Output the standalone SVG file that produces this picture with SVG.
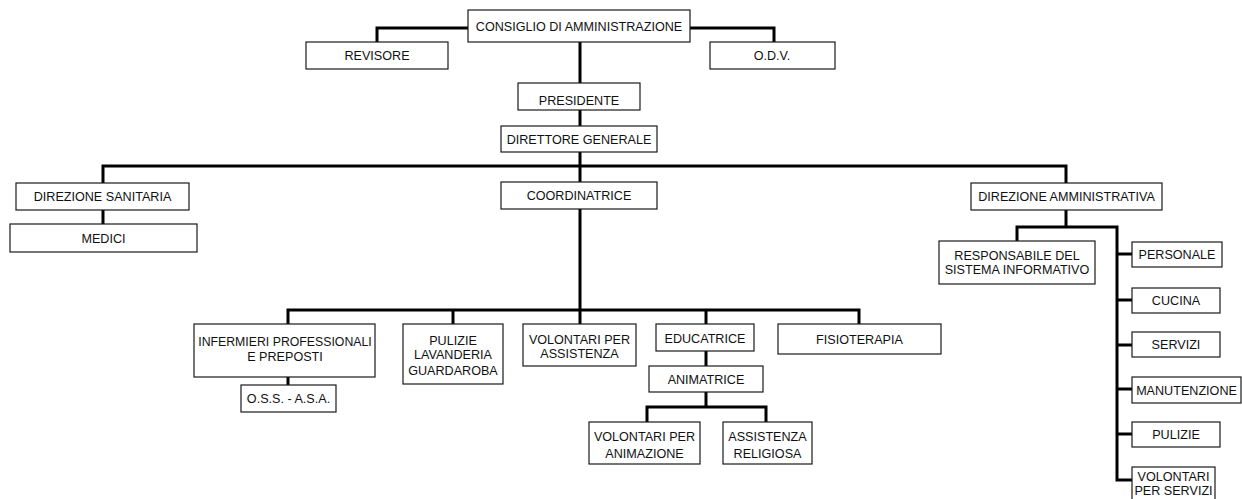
<svg xmlns="http://www.w3.org/2000/svg" width="1242" height="499" viewBox="0 0 1242 499">
<style>
.box{fill:#fff;stroke:#1a1a1a;stroke-width:1.2}
.t{font-family:"Liberation Sans",Arial,sans-serif;font-size:12.6px;fill:#111;text-anchor:middle}
.c{fill:none;stroke:#000;stroke-width:3}
</style>
<rect width="1242" height="499" fill="#fff"/>
<g id="connectors" class="c">
<path d="M468,28 H377 V42"/>
<path d="M690,28 H774 V42"/>
<path d="M580,42 V83"/>
<path d="M580,110 V126"/>
<path d="M580,152 V182"/>
<path d="M103,183 V166 H1066 V183"/>
<path d="M103,210 V224"/>
<path d="M580,209 V324"/>
<path d="M288,324 V310 H859 V324"/>
<path d="M453,310 V324"/>
<path d="M706,310 V324"/>
<path d="M288,377 V385"/>
<path d="M706,351 V366"/>
<path d="M706,392 V407"/>
<path d="M647,422 V407 H766 V422"/>
<path d="M1066,210 V227"/>
<path d="M1017,241 V227 H1117 V480 H1132"/>
<path d="M1117,254 H1132"/>
<path d="M1117,300 H1132"/>
<path d="M1117,345 H1132"/>
<path d="M1117,389 H1132"/>
<path d="M1117,434 H1132"/>
</g>
<g id="n-consiglio"><rect class="box" x="468" y="10" width="222" height="32"/><text class="t" x="579" y="31">CONSIGLIO DI AMMINISTRAZIONE</text></g>
<g id="n-revisore"><rect class="box" x="306" y="42" width="142" height="27"/><text class="t" x="377" y="60">REVISORE</text></g>
<g id="n-odv"><rect class="box" x="710" y="42" width="125" height="27"/><text class="t" x="772" y="60">O.D.V.</text></g>
<g id="n-presidente"><rect class="box" x="518" y="83" width="122" height="27"/><text class="t" x="579" y="105">PRESIDENTE</text></g>
<g id="n-direttore"><rect class="box" x="501" y="126" width="156" height="26"/><text class="t" x="579" y="144">DIRETTORE GENERALE</text></g>
<g id="n-dir-sanitaria"><rect class="box" x="16" y="183" width="173" height="27"/><text class="t" x="102.5" y="201">DIREZIONE SANITARIA</text></g>
<g id="n-medici"><rect class="box" x="10" y="224" width="187" height="28"/><text class="t" x="103.5" y="243">MEDICI</text></g>
<g id="n-coordinatrice"><rect class="box" x="501" y="182" width="156" height="27"/><text class="t" x="579" y="200">COORDINATRICE</text></g>
<g id="n-dir-amministrativa"><rect class="box" x="971" y="183" width="191" height="27"/><text class="t" x="1066.5" y="201">DIREZIONE AMMINISTRATIVA</text></g>
<g id="n-responsabile"><rect class="box" x="939" y="241" width="156" height="43"/><text class="t" x="1017" y="260">RESPONSABILE DEL</text><text class="t" x="1017" y="274">SISTEMA INFORMATIVO</text></g>
<g id="n-personale"><rect class="box" x="1132" y="242" width="90" height="25"/><text class="t" x="1177" y="259">PERSONALE</text></g>
<g id="n-cucina"><rect class="box" x="1132" y="288" width="88" height="25"/><text class="t" x="1176" y="305">CUCINA</text></g>
<g id="n-servizi"><rect class="box" x="1132" y="332" width="88" height="25"/><text class="t" x="1176" y="349">SERVIZI</text></g>
<g id="n-manutenzione"><rect class="box" x="1132" y="377" width="109" height="26"/><text class="t" x="1186.5" y="395">MANUTENZIONE</text></g>
<g id="n-pulizie"><rect class="box" x="1132" y="422" width="88" height="25"/><text class="t" x="1176" y="439">PULIZIE</text></g>
<g id="n-volontari-servizi"><rect class="box" x="1132" y="467" width="83" height="40"/><text class="t" x="1173.5" y="481">VOLONTARI</text><text class="t" x="1173.5" y="495">PER SERVIZI</text></g>
<g id="n-infermieri"><rect class="box" x="194" y="324" width="181" height="53"/><text class="t" x="285" y="345.5" style="font-size:12.3px">INFERMIERI PROFESSIONALI</text><text class="t" x="285" y="360.5">E PREPOSTI</text></g>
<g id="n-oss"><rect class="box" x="241" y="385" width="95" height="27"/><text class="t" x="288.5" y="403">O.S.S. - A.S.A.</text></g>
<g id="n-pulizie-lav"><rect class="box" x="403" y="324" width="100" height="60"/><text class="t" x="453" y="344.5">PULIZIE</text><text class="t" x="453" y="359">LAVANDERIA</text><text class="t" x="453" y="374.5">GUARDAROBA</text></g>
<g id="n-volontari-assistenza"><rect class="box" x="523" y="324" width="113" height="42"/><text class="t" x="579.5" y="344">VOLONTARI PER</text><text class="t" x="579.5" y="358">ASSISTENZA</text></g>
<g id="n-educatrice"><rect class="box" x="656" y="324" width="98" height="27"/><text class="t" x="705" y="343">EDUCATRICE</text></g>
<g id="n-fisioterapia"><rect class="box" x="778" y="324" width="163" height="30"/><text class="t" x="859.5" y="343.5">FISIOTERAPIA</text></g>
<g id="n-animatrice"><rect class="box" x="649" y="366" width="114" height="26"/><text class="t" x="706" y="384">ANIMATRICE</text></g>
<g id="n-volontari-animazione"><rect class="box" x="589" y="422" width="111" height="42"/><text class="t" x="644.5" y="441">VOLONTARI PER</text><text class="t" x="644.5" y="457.5">ANIMAZIONE</text></g>
<g id="n-assistenza-religiosa"><rect class="box" x="723" y="422" width="89" height="42"/><text class="t" x="767.5" y="441">ASSISTENZA</text><text class="t" x="767.5" y="457.5">RELIGIOSA</text></g>
</svg>
